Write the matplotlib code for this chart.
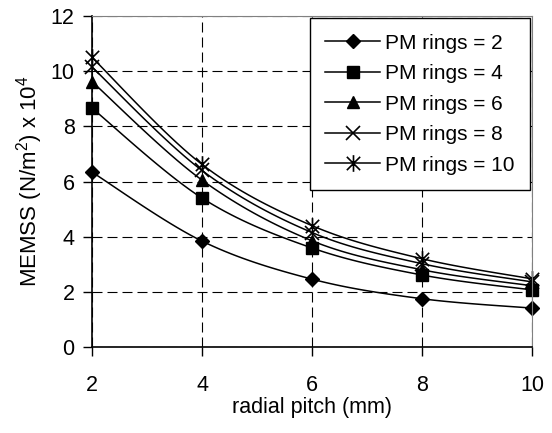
import numpy as np
import matplotlib
matplotlib.use("Agg")
import matplotlib.pyplot as plt
from matplotlib.path import Path
from matplotlib.lines import Line2D

plt.rcParams['font.family'] = ['Liberation Sans', 'DejaVu Sans']
plt.rcParams['mathtext.fontset'] = 'custom'
plt.rcParams['mathtext.rm'] = 'Liberation Sans'
plt.rcParams['mathtext.it'] = 'Liberation Sans'

pitch = [2, 4, 6, 8, 10]
rings2 = [6.34, 3.84, 2.46, 1.75, 1.41]
rings4 = [8.66, 5.40, 3.59, 2.61, 2.07]
rings6 = [9.62, 6.05, 3.85, 2.80, 2.22]
rings8 = [10.15, 6.40, 4.15, 3.02, 2.36]
rings10 = [10.50, 6.62, 4.40, 3.20, 2.47]
labels = ['PM rings = 2', 'PM rings = 4', 'PM rings = 6', 'PM rings = 8', 'PM rings = 10']

star = Path([(0, -1), (0, 1), (-0.8, -0.8), (0.8, 0.8), (-0.8, 0.8), (0.8, -0.8)],
            [Path.MOVETO, Path.LINETO, Path.MOVETO, Path.LINETO, Path.MOVETO, Path.LINETO])
styles = [dict(marker='D', ms=7), dict(marker='s', ms=8), dict(marker='^', ms=9),
          dict(marker='x', ms=10, mew=1.2), dict(marker=star, ms=12, mew=1.2)]


def smooth(x, y, n=20):
    # Excel-style smoothed line: cubic Bezier with Catmull-Rom tangents
    x = np.asarray(x, float); y = np.asarray(y, float)
    xs, ys = [], []
    for i in range(len(x) - 1):
        p0 = np.array([x[max(i - 1, 0)], y[max(i - 1, 0)]])
        p1 = np.array([x[i], y[i]])
        p2 = np.array([x[i + 1], y[i + 1]])
        p3 = np.array([x[min(i + 2, len(x) - 1)], y[min(i + 2, len(x) - 1)]])
        c1 = p1 + (p2 - p0) / 6
        c2 = p2 - (p3 - p1) / 6
        t = np.linspace(0, 1, n)[:, None]
        pts = (1 - t) ** 3 * p1 + 3 * (1 - t) ** 2 * t * c1 + 3 * (1 - t) * t ** 2 * c2 + t ** 3 * p2
        xs.extend(pts[:, 0]); ys.extend(pts[:, 1])
    return xs, ys


fig = plt.figure(figsize=(5.52, 4.33), dpi=100)
ax = fig.add_axes([0.1667, 0.1986, 0.7971, 0.7644])

handles = []
for ys, lab, st in zip([rings2, rings4, rings6, rings8, rings10], labels, styles):
    sx, sy = smooth(pitch, ys)
    ax.plot(sx, sy, color='black', lw=1.1, clip_on=False)
    ax.plot(pitch, ys, linestyle='none', color='black', mfc='black', mec='black', clip_on=False,
            **st)
    handles.append(Line2D([], [], color='black', lw=1.1, mfc='black', mec='black', **st))

ax.set_xlim(2, 10)
ax.set_ylim(0, 12)
ax.set_xticks(pitch)
ax.set_yticks(np.arange(0, 13, 2))
ax.grid(True, color='black', linestyle=(0, (9, 4.5)), lw=0.8)
ax.set_axisbelow(True)
ax.tick_params(axis='both', labelsize=15.5, direction='out', length=6.5, width=1, color='black')
ax.tick_params(axis='x', pad=13.5)
ax.tick_params(axis='y', pad=6)
for s in ['top', 'right']:
    ax.spines[s].set_color('#808080')
for s in ['left', 'bottom']:
    ax.spines[s].set_color('black')
    ax.spines[s].set_linewidth(1.2)

ax.set_xlabel('radial pitch (mm)', fontsize=15.5, labelpad=1)
ax.set_ylabel(r'MEMSS (N/m$^2$) x 10$^4$', fontsize=16, labelpad=4)

leg = ax.legend(handles, labels, loc='upper right', bbox_to_anchor=(1.0, 1.0), fontsize=15,
                frameon=True, fancybox=False, edgecolor='black', framealpha=1,
                handlelength=2.6, handletextpad=0.25, borderpad=0.75, labelspacing=0.55,
                borderaxespad=0.1)
leg.get_frame().set_linewidth(1.0)

fig.savefig('out.png', dpi=100)
